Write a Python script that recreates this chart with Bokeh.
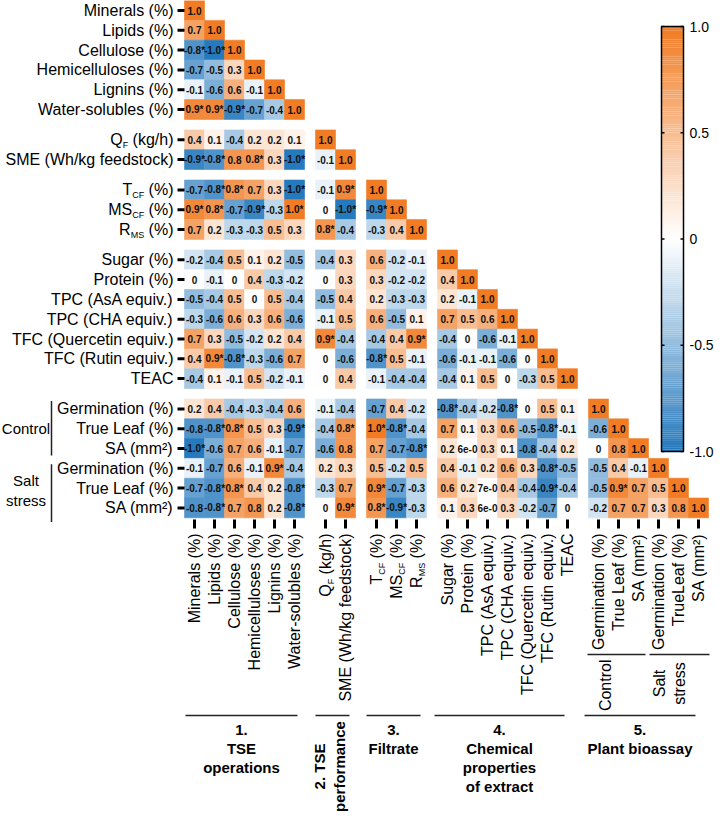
import math
from bokeh.plotting import figure
from bokeh.models import Range1d, ColumnDataSource, LinearColorMapper
from bokeh.transform import transform
from bokeh.core.properties import value
from bokeh.embed import file_html
from bokeh.resources import INLINE

# ---------------- data ----------------
row_main = ["Minerals (%)", "Lipids (%)", "Cellulose (%)", "Hemicelluloses (%)", "Lignins (%)",
            "Water-solubles (%)", "Q", "SME (Wh/kg feedstock)", "T", "MS", "R",
            "Sugar (%)", "Protein (%)", "TPC (AsA equiv.)", "TPC (CHA equiv.)",
            "TFC (Quercetin equiv.)", "TFC (Rutin equiv.)", "TEAC",
            "Germination (%)", "True Leaf (%)", "SA (mm²)",
            "Germination (%)", "True Leaf (%)", "SA (mm²)"]
col_main = row_main[:22] + ["TrueLeaf (%)", "SA (mm²)"]
var_sub = ["", "", "", "", "", "", "F", "", "CF", "CF", "MS"] + [""] * 13
var_suffix = ["", "", "", "", "", "", "(kg/h)", "", "(%)", "(%)", "(%)"] + [""] * 13
var_group = [0] * 6 + [1] * 2 + [2] * 3 + [3] * 7 + [4] * 6

group_titles = [["1.", "TSE", "operations"], None, ["3.", "Filtrate"],
                ["4.", "Chemical", "properties", "of extract"], ["5.", "Plant bioassay"]]
rot_title = ["2. TSE", "performance"]
sub_groups = ["Control", "Salt stress"]

corr_rows = [
    "1.0",
    "0.7 1.0",
    "-0.8* -1.0* 1.0",
    "-0.7 -0.5 0.3 1.0",
    "-0.1 -0.6 0.6 -0.1 1.0",
    "0.9* 0.9* -0.9* -0.7 -0.4 1.0",
    "0.4 0.1 -0.4 0.2 0.2 0.1 1.0",
    "-0.9* -0.8* 0.8 0.8* 0.3 -1.0* -0.1 1.0",
    "-0.7 -0.8* 0.8* 0.7 0.3 -1.0* -0.1 0.9* 1.0",
    "0.9* 0.8* -0.7 -0.9* -0.3 1.0* 0 -1.0* -0.9* 1.0",
    "0.7 0.2 -0.3 -0.3 0.5 0.3 0.8* -0.4 -0.3 0.4 1.0",
    "-0.2 -0.4 0.5 0.1 0.2 -0.5 -0.4 0.3 0.6 -0.2 -0.1 1.0",
    "0 -0.1 0 0.4 -0.3 -0.2 0 0.3 0.3 -0.2 -0.2 0.4 1.0",
    "-0.5 -0.4 0.5 0 0.5 -0.4 -0.5 0.4 0.2 -0.3 -0.3 0.2 -0.1 1.0",
    "-0.3 -0.6 0.6 0.3 0.6 -0.6 -0.1 0.5 0.6 -0.5 0.1 0.7 0.5 0.6 1.0",
    "0.7 0.3 -0.5 -0.2 0.2 0.4 0.9* -0.4 -0.4 0.4 0.9* -0.4 0 -0.6 -0.1 1.0",
    "0.4 0.9* -0.8* -0.3 -0.6 0.7 0 -0.6 -0.8* 0.5 -0.1 -0.6 -0.1 -0.1 -0.6 0 1.0",
    "-0.4 0.1 -0.1 0.5 -0.2 -0.1 0 0.4 -0.1 -0.4 -0.4 -0.4 0.1 0.5 0 -0.3 0.5 1.0",
    "0.2 0.4 -0.4 -0.3 -0.4 0.6 -0.1 -0.4 -0.7 0.4 -0.2 -0.8* -0.4 -0.2 -0.8* 0 0.5 0.1 1.0",
    "-0.8 -0.8* 0.8* 0.5 0.3 -0.9* -0.4 0.8* 1.0* -0.8* -0.4 0.7 0.1 0.3 0.6 -0.5 -0.8* -0.1 -0.6 1.0",
    "-1.0* -0.6 0.7 0.6 -0.1 -0.7 -0.6 0.8 0.7 -0.7 -0.8* 0.2 6e-03 0.3 0.1 -0.8 -0.4 0.2 0 0.8 1.0",
    "-0.1 -0.7 0.6 -0.1 0.9* -0.4 0.2 0.3 0.5 -0.2 0.5 0.4 -0.1 0.2 0.6 0.3 -0.8* -0.5 -0.5 0.4 -0.1 1.0",
    "-0.7 -0.8* 0.8* 0.4 0.2 -0.8* -0.3 0.7 0.9* -0.7 -0.3 0.6 0.2 7e-03 0.4 -0.4 -0.9* -0.4 -0.5 0.9* 0.7 0.5 1.0",
    "-0.8 -0.8* 0.7 0.8 0.2 -0.8* 0 0.9* 0.8* -0.9* -0.3 0.1 0.3 6e-03 0.3 -0.2 -0.7 0 -0.2 0.7 0.7 0.3 0.8 1.0",
]
cb_ticks = [1.0, 0.5, 0.0, -0.5, -1.0]
cb_tick_labels = ["1.0", "0.5", "0", "-0.5", "-1.0"]

# ---------------- layout constants ----------------
X0, CW, CG = 202.0, 20.0, 11.0
Y0, RH, RG = 18.0, 19.8, 10.5
xc = [X0 + j * CW + var_group[j] * CG for j in range(24)]
yc = [Y0 + i * RH + var_group[i] * RG for i in range(24)]
LAB_FS, SUB_FS = 16, 9
FONT = "Liberation Sans"

AW = {' ': 278, '(': 333, ')': 333, '%': 889, 'k': 500, 'g': 556, '/': 278, 'h': 556,
      'C': 722, 'F': 611, 'M': 833, 'S': 667, 'T': 611, 'Q': 778, 'R': 722}


def tw(s, size):
    return sum(AW[c] for c in s) * size / 1000.0


# colour palette blue - white - orange
BLUE, WHITE, ORANGE = (37, 121, 189), (255, 255, 255), (241, 124, 36)
palette = []
for k in range(256):
    v = -1 + 2 * k / 255
    c2, t = (BLUE, -v) if v < 0 else (ORANGE, v)
    rgb = tuple(int(round(WHITE[m] + (c2[m] - WHITE[m]) * t)) for m in range(3))
    palette.append("#%02x%02x%02x" % rgb)
mapper = LinearColorMapper(palette=palette, low=-1, high=1)

p = figure(width=716, height=812, x_range=Range1d(8, 724), y_range=Range1d(820, 8),
           x_axis_type=None, y_axis_type=None, toolbar_location=None,
           output_backend="svg", min_border=0, outline_line_color=None)
p.background_fill_color = "white"
p.border_fill_color = "white"

# ---------------- cells ----------------
cx, cy, cv, cl = [], [], [], []
for i, row in enumerate(corr_rows):
    for j, s in enumerate(row.split()):
        v = float(s.rstrip("*"))
        cx.append(xc[j]); cy.append(yc[i]); cv.append(v)
        cl.append(s[:4] if "e-" in s else s)
src = ColumnDataSource(dict(x=cx, y=cy, v=cv, label=cl))
p.rect(x="x", y="y", width=CW, height=RH, source=src, fill_color=transform("v", mapper),
       line_color=transform("v", mapper), line_width=0.6)
p.text(x="x", y="y", text="label", source=src, text_font=value(FONT),
       text_font_style="bold", text_font_size="10px", text_align="center",
       text_baseline="middle", text_color="#111111")

# ---------------- left labels ----------------
LX = 181
SP = tw(" ", LAB_FS)
lm = dict(x=[], y=[], t=[])
ls = dict(x=[], y=[], t=[])
for i in range(24):
    if var_sub[i]:
        suf_w = tw(var_suffix[i], LAB_FS) + SP
        sub_w = tw(var_sub[i], SUB_FS)
        lm["x"] += [LX, LX - suf_w - sub_w]
        lm["y"] += [yc[i], yc[i]]
        lm["t"] += [var_suffix[i], row_main[i]]
        ls["x"].append(LX - suf_w); ls["y"].append(yc[i] + 5); ls["t"].append(var_sub[i])
    else:
        lm["x"].append(LX); lm["y"].append(yc[i]); lm["t"].append(row_main[i])
p.text(x="x", y="y", text="t", source=ColumnDataSource(lm), text_font=value(FONT),
       text_font_size="%dpx" % LAB_FS, text_align="right", text_baseline="middle", text_color="black")
p.text(x="x", y="y", text="t", source=ColumnDataSource(ls), text_font=value(FONT),
       text_font_size="%dpx" % SUB_FS, text_align="right", text_baseline="middle", text_color="black")
p.segment(x0=[185] * 24, x1=[192] * 24, y0=yc, y1=yc, line_width=3, line_color="black")

# ---------------- bottom labels ----------------
BY = 541
bm = dict(x=[], y=[], t=[])
bs = dict(x=[], y=[], t=[])
for j in range(24):
    if var_sub[j]:
        suf_w = tw(var_suffix[j], LAB_FS) + SP
        sub_w = tw(var_sub[j], SUB_FS)
        bm["x"] += [xc[j], xc[j]]
        bm["y"] += [BY, BY + suf_w + sub_w]
        bm["t"] += [var_suffix[j], col_main[j]]
        bs["x"].append(xc[j] + 5); bs["y"].append(BY + suf_w); bs["t"].append(var_sub[j])
    else:
        bm["x"].append(xc[j]); bm["y"].append(BY); bm["t"].append(col_main[j])
p.text(x="x", y="y", text="t", source=ColumnDataSource(bm), angle=math.pi / 2, text_font=value(FONT),
       text_font_size="%dpx" % LAB_FS, text_align="right", text_baseline="middle", text_color="black")
p.text(x="x", y="y", text="t", source=ColumnDataSource(bs), angle=math.pi / 2, text_font=value(FONT),
       text_font_size="%dpx" % SUB_FS, text_align="right", text_baseline="middle", text_color="black")
p.segment(x0=xc, x1=xc, y0=[527] * 24, y1=[536] * 24, line_width=3, line_color="black")

# ---------------- sub-group brackets (Control / Salt stress) ----------------
BRX = 59
p.segment(x0=[BRX, BRX], x1=[BRX, BRX], y0=[yc[18] - 8, yc[21] - 4], y1=[yc[20] + 7, yc[23] + 14],
          line_width=1.5, line_color="#222222")
p.text(x=[33.5], y=[yc[19]], text=[sub_groups[0]], text_font=value(FONT), text_font_size="15px",
       text_align="center", text_baseline="middle")
p.text(x=[33.5, 33.5], y=[yc[22] - 8, yc[22] + 12], text=sub_groups[1].split(), text_font=value(FONT),
       text_font_size="15px", text_align="center", text_baseline="middle")
p.segment(x0=[xc[18] - 11, xc[21] - 9], x1=[xc[20] + 7, xc[23] + 11], y0=[662, 662], y1=[662, 662],
          line_width=1.5, line_color="#222222")
p.text(x=[xc[18] + 7], y=[667], text=[sub_groups[0]], angle=math.pi / 2, text_font=value(FONT),
       text_font_size="16px", text_align="right", text_baseline="middle")
p.text(x=[xc[21] + 1, xc[22] + 1], y=[691, 691], text=sub_groups[1].split(), angle=math.pi / 2,
       text_font=value(FONT), text_font_size="16px", text_align="center", text_baseline="middle")

# ---------------- group titles ----------------
glines = [(193, 305), (323, 357), (374, 428), (442, 572), (592, 703)]
p.segment(x0=[a for a, b in glines], x1=[b for a, b in glines], y0=[723] * 5, y1=[723] * 5,
          line_width=1.6, line_color="#222222")
tx, ty, tt = [], [], []
for g, lines in enumerate(group_titles):
    if lines is None:
        continue
    mid = (glines[g][0] + glines[g][1]) / 2
    for k, s in enumerate(lines):
        tx.append(mid); ty.append(737 + 19 * k); tt.append(s)
p.text(x=tx, y=ty, text=tt, text_font=value(FONT), text_font_style="bold", text_font_size="15px",
       text_align="center", text_baseline="middle")
p.text(x=[327, 347], y=[774, 774], text=rot_title, angle=math.pi / 2, text_font=value(FONT),
       text_font_style="bold", text_font_size="15px", text_align="center", text_baseline="middle")

# ---------------- colour bar ----------------
CB_TOP, CB_BOT, CB_X, CB_W = 34.0, 459.0, 680.0, 22.0
a = -2.0 / (CB_BOT - CB_TOP)
b = 1 - a * CB_TOP
p.extra_y_ranges = {"cb": Range1d(start=a * 820 + b, end=a * 8 + b)}
n = 200
gv = [-1 + (k + 0.5) * 2 / n for k in range(n)]
cb_src = ColumnDataSource(dict(x=[CB_X] * n, v=gv))
p.rect(x="x", y="v", width=CB_W, height=2 / n * 1.05, y_range_name="cb",
       source=cb_src, fill_color=transform("v", mapper), line_color=None)
p.rect(x=[CB_X], y=[0], width=CB_W, height=2, y_range_name="cb", fill_color=None,
       line_color="black", line_width=1.5)
p.segment(x0=[CB_X - CB_W / 2] * 5, x1=[CB_X - CB_W / 2 + 3] * 5, y0=cb_ticks, y1=cb_ticks,
          y_range_name="cb", line_color="black", line_width=1.5)
p.segment(x0=[CB_X + CB_W / 2 - 3] * 5, x1=[CB_X + CB_W / 2] * 5, y0=cb_ticks, y1=cb_ticks,
          y_range_name="cb", line_color="black", line_width=1.5)
p.text(x=[CB_X + CB_W / 2 + 6] * 5, y=cb_ticks, text=cb_tick_labels, y_range_name="cb",
       text_font=value(FONT), text_font_size="14px", text_align="left", text_baseline="middle")

open("out.html", "w").write(file_html(p, INLINE))
